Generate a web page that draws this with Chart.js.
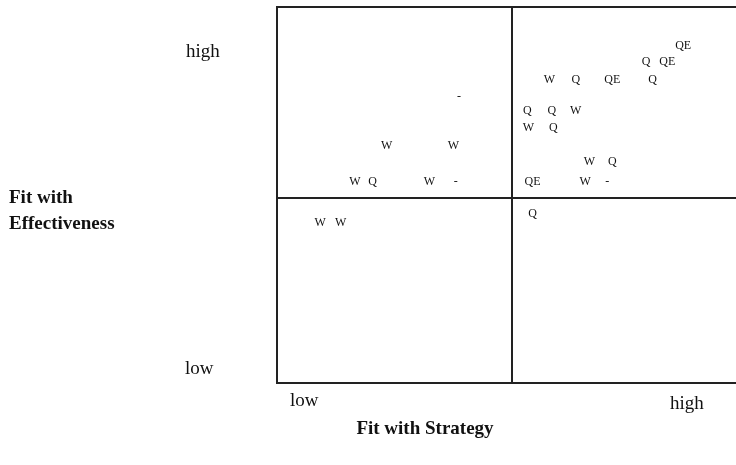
<!DOCTYPE html>
<html>
<head>
<meta charset="utf-8">
<script src="https://cdn.jsdelivr.net/npm/chart.js@4"></script>
<style>
  html, body { margin: 0; padding: 0; background: #fff; overflow: hidden; }
  #wrap { position: relative; width: 760px; height: 465px; }
</style>
</head>
<body>
<div id="wrap"><canvas id="matrix" width="760" height="465"></canvas></div>
<script>
// quadrant split values (0..10 on both axes)
const xTicks = [0, 5, 10];
const yTicks = [0, 4.92, 10];

// letter markers, one array pair per letter
const wX = [2.34, 3.76, 1.66, 3.25, 0.92, 1.36, 5.81, 6.37, 5.36, 6.66, 6.57];
const wY = [6.31, 6.31, 5.35, 5.35, 4.26, 4.26, 8.07, 7.23, 6.79, 5.87, 5.35];
const qX = [2.04, 7.87, 6.37, 8.01, 5.34, 5.86, 5.89, 7.15, 5.45];
const qY = [5.35, 8.54, 8.07, 8.07, 7.23, 7.23, 6.79, 5.87, 4.51];
const qeX = [8.66, 8.32, 7.15, 5.45];
const qeY = [8.96, 8.54, 8.07, 5.35];
const dashX = [3.88, 3.81, 7.04];
const dashY = [7.61, 5.35, 5.35];

function pts(xs, ys) {
    return xs.map((x, i) => ({ x: x, y: ys[i] }));
}

// draws each dataset's label as text at its points
const letterPlugin = {
    id: 'letters',
    afterDatasetsDraw(chart) {
        const ctx = chart.ctx;
        ctx.save();
        ctx.font = "12px 'Liberation Serif'";
        ctx.fillStyle = '#111';
        ctx.textAlign = 'center';
        ctx.textBaseline = 'middle';
        chart.data.datasets.forEach((ds, i) => {
            chart.getDatasetMeta(i).data.forEach(el => {
                ctx.fillText(ds.label, el.x, el.y);
            });
        });
        ctx.restore();
    }
};

// axis words and titles around the box
const framePlugin = {
    id: 'frame',
    afterDraw(chart) {
        const ctx = chart.ctx;
        const a = chart.chartArea;
        ctx.save();
        ctx.fillStyle = '#111';
        ctx.textBaseline = 'middle';
        ctx.font = "19px 'Liberation Serif'";
        ctx.textAlign = 'left';
        ctx.fillText('high', 186, 52);
        ctx.fillText('low', 185, 369);
        ctx.fillText('low', a.left + 13, 401);
        ctx.fillText('high', 670, 404);
        ctx.font = "bold 19px 'Liberation Serif'";
        ctx.fillText('Fit with', 9, 198);
        ctx.fillText('Effectiveness', 9, 224);
        ctx.textAlign = 'center';
        ctx.fillText('Fit with Strategy', 425, 429);
        ctx.restore();
    }
};

const gridOpts = {
    color: '#222',
    lineWidth: 2,
    drawTicks: false
};

new Chart(document.getElementById('matrix'), {
    type: 'scatter',
    data: {
        datasets: [
            { label: 'W', data: pts(wX, wY) },
            { label: 'Q', data: pts(qX, qY) },
            { label: 'QE', data: pts(qeX, qeY) },
            { label: '-', data: pts(dashX, dashY) }
        ]
    },
    options: {
        responsive: false,
        animation: false,
        layout: { padding: { left: 277, top: 7, right: 14, bottom: 82 } },
        elements: { point: { radius: 0, hoverRadius: 0 } },
        plugins: { legend: { display: false }, tooltip: { enabled: false } },
        scales: {
            x: {
                min: 0, max: 10,
                afterBuildTicks: s => { s.ticks = xTicks.map(v => ({ value: v })); },
                ticks: { display: false },
                grid: gridOpts,
                border: { color: '#222', width: 2 }
            },
            y: {
                min: 0, max: 10,
                afterBuildTicks: s => { s.ticks = yTicks.map(v => ({ value: v })); },
                ticks: { display: false },
                grid: gridOpts,
                border: { color: '#222', width: 2 }
            }
        }
    },
    plugins: [letterPlugin, framePlugin]
});
</script>
</body>
</html>
